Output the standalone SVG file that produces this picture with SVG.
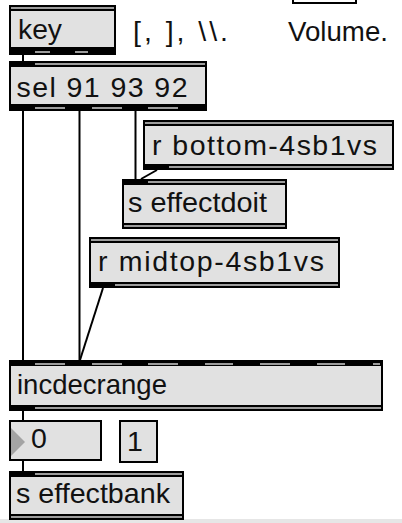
<svg xmlns="http://www.w3.org/2000/svg" width="402" height="523" viewBox="0 0 402 523">
<style>
.box{fill:#e1e1e1;stroke:#000;stroke-width:2}
.band{fill:#000}
.st{fill:#9c9c9c}
.t{font-family:"Liberation Sans",Arial,sans-serif;font-size:28.5px;fill:#111}
.c{stroke:#000;stroke-width:2;fill:none}
</style>
<rect width="402" height="523" fill="#fff"/>
<rect x="0" y="519" width="402" height="4" fill="#e6e6e6"/>

<g id="volume-box">
<rect x="293" y="-5" width="63" height="8" fill="#fff" stroke="#000" stroke-width="2"/>
</g>
<g id="comment-keys"><text class="t" x="133" y="41" textLength="95" lengthAdjust="spacing">[, ], \\.</text></g>
<g id="comment-volume"><text class="t" x="288" y="41" textLength="100" lengthAdjust="spacingAndGlyphs">Volume.</text></g>

<g id="key">
<rect class="box" x="10" y="6" width="105" height="48"/>
<rect class="band" x="9" y="5" width="107" height="6"/>
<rect class="st" x="11" y="7" width="103" height="2"/>
<rect class="band" x="9" y="47" width="107" height="8"/>
<rect class="st" x="35" y="51" width="15" height="2"/>
<rect class="st" x="75" y="51" width="13" height="2"/>
<text class="t" x="18" y="39" textLength="44" lengthAdjust="spacingAndGlyphs">key</text>
</g>

<g id="sel">
<rect class="box" x="10" y="62" width="196" height="48"/>
<rect class="band" x="9" y="61" width="198" height="6"/>
<rect class="st" x="35" y="63" width="170" height="2"/>
<rect class="band" x="9" y="104" width="198" height="7"/>
<rect class="st" x="35" y="107" width="30" height="2"/>
<rect class="st" x="92" y="107" width="30" height="2"/>
<rect class="st" x="148" y="107" width="30" height="2"/>
<text class="t" x="16.5" y="97" textLength="171" lengthAdjust="spacing">sel 91 93 92</text>
</g>

<g id="r-bottom">
<rect class="box" x="144" y="121" width="249" height="48"/>
<rect class="band" x="143" y="120" width="251" height="6"/>
<rect class="st" x="145" y="122" width="247" height="2"/>
<rect class="band" x="143" y="164" width="251" height="6"/>
<rect class="st" x="169" y="166" width="223" height="2"/>
<text class="t" x="152" y="155" textLength="225" lengthAdjust="spacing">r bottom-4sb1vs</text>
</g>

<g id="s-effectdoit">
<rect class="box" x="123" y="180" width="163" height="48"/>
<rect class="band" x="122" y="179" width="165" height="6"/>
<rect class="st" x="148" y="181" width="137" height="2"/>
<rect class="band" x="122" y="223" width="165" height="6"/>
<rect class="st" x="124" y="225" width="161" height="2"/>
<text class="t" x="128" y="212" textLength="139" lengthAdjust="spacingAndGlyphs">s effectdoit</text>
</g>

<g id="r-midtop">
<rect class="box" x="90" y="238" width="249" height="49"/>
<rect class="band" x="89" y="237" width="251" height="6"/>
<rect class="st" x="91" y="239" width="247" height="2"/>
<rect class="band" x="89" y="282" width="251" height="6"/>
<rect class="st" x="115" y="284" width="223" height="2"/>
<text class="t" x="98" y="271" textLength="226" lengthAdjust="spacing">r midtop-4sb1vs</text>
</g>

<g id="incdecrange">
<rect class="box" x="10" y="361" width="372" height="49"/>
<rect class="band" x="9" y="360" width="374" height="6"/>
<rect class="st" x="35" y="363" width="30" height="2"/>
<rect class="st" x="92" y="363" width="30" height="2"/>
<rect class="st" x="148" y="363" width="30" height="2"/>
<rect class="st" x="205" y="363" width="28" height="2"/>
<rect class="st" x="260" y="363" width="30" height="2"/>
<rect class="st" x="317" y="363" width="28" height="2"/>
<rect class="st" x="373" y="363" width="7" height="2"/>
<rect class="band" x="9" y="405" width="374" height="6"/>
<rect class="st" x="35" y="407" width="346" height="2"/>
<text class="t" x="17" y="394" textLength="150" lengthAdjust="spacingAndGlyphs">incdecrange</text>
</g>

<g id="number-box">
<rect class="box" x="10" y="421" width="91" height="39"/>
<polygon points="11,428 25,442 11,456" fill="#a4a4a4"/>
<text class="t" x="31" y="448">0</text>
</g>

<g id="message-1">
<rect class="box" x="120" y="421" width="37" height="41"/>
<text class="t" x="127" y="451">1</text>
</g>

<g id="s-effectbank">
<rect class="box" x="10" y="472" width="173" height="47"/>
<rect class="band" x="9" y="471" width="175" height="6"/>
<rect class="st" x="35" y="473" width="147" height="2"/>
<rect class="band" x="9" y="514" width="175" height="6"/>
<rect class="st" x="11" y="516" width="171" height="2"/>
<text class="t" x="16" y="503" textLength="154" lengthAdjust="spacingAndGlyphs">s effectbank</text>
</g>

<g id="connectors">
<line class="c" x1="23" y1="55" x2="23" y2="61"/>
<line class="c" x1="23" y1="111" x2="23" y2="360"/>
<line class="c" x1="79.5" y1="111" x2="79.5" y2="360"/>
<line class="c" x1="135.5" y1="111" x2="135.5" y2="179"/>
<line class="c" x1="157" y1="170" x2="141" y2="179"/>
<line class="c" x1="103" y1="288" x2="80" y2="360" stroke-width="1.5"/>
<line class="c" x1="23" y1="411" x2="23" y2="421"/>
<line class="c" x1="23" y1="460" x2="23" y2="471"/>
</g>
</svg>
